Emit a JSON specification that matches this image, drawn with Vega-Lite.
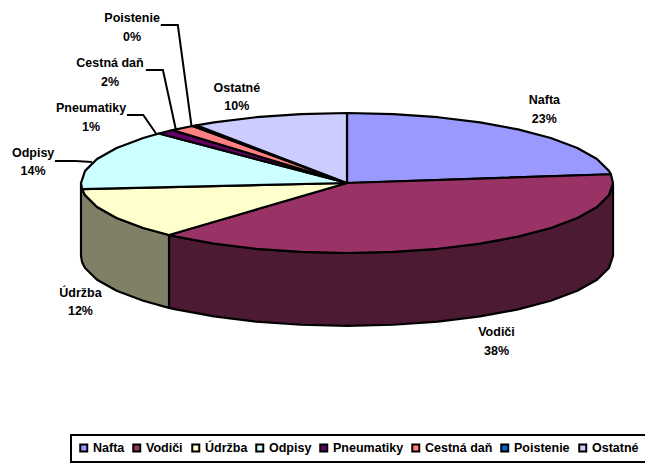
{
"$schema":"https://vega.github.io/schema/vega-lite/v6.json",
"width":645,"height":464,"padding":0,
"autosize":{"type":"fit","contains":"padding"},
"background":"white",
"config":{"view":{"stroke":null},"text":{"font":"Liberation Sans"},"legend":{"strokeWidth":2}},
"datasets":{
"wall":[
{"slice":"Vodiči","i":1,"x":100,"y":0},{"slice":"Vodiči","i":2,"x":98.48,"y":-17.36},{"slice":"Vodiči","i":3,"x":93.97,"y":-34.2},{"slice":"Vodiči","i":4,"x":86.6,"y":-50},{"slice":"Vodiči","i":5,"x":76.6,"y":-64.28},{"slice":"Vodiči","i":6,"x":64.28,"y":-76.6},{"slice":"Vodiči","i":7,"x":50,"y":-86.6},{"slice":"Vodiči","i":8,"x":34.2,"y":-93.97},{"slice":"Vodiči","i":9,"x":17.36,"y":-98.48},{"slice":"Vodiči","i":10,"x":0,"y":-100},{"slice":"Vodiči","i":11,"x":-17.36,"y":-98.48},{"slice":"Vodiči","i":12,"x":-34.2,"y":-93.97},{"slice":"Vodiči","i":13,"x":-50,"y":-86.6},{"slice":"Vodiči","i":14,"x":-64.28,"y":-76.6},{"slice":"Vodiči","i":15,"x":-66.91,"y":-74.31},
{"slice":"Vodiči","i":16,"x":-66.91,"y":-178.31},{"slice":"Vodiči","i":17,"x":-64.28,"y":-180.6},{"slice":"Vodiči","i":18,"x":-50,"y":-190.6},{"slice":"Vodiči","i":19,"x":-34.2,"y":-197.97},{"slice":"Vodiči","i":20,"x":-17.36,"y":-202.48},{"slice":"Vodiči","i":21,"x":0,"y":-204},{"slice":"Vodiči","i":22,"x":17.36,"y":-202.48},{"slice":"Vodiči","i":23,"x":34.2,"y":-197.97},{"slice":"Vodiči","i":24,"x":50,"y":-190.6},{"slice":"Vodiči","i":25,"x":64.28,"y":-180.6},{"slice":"Vodiči","i":26,"x":76.6,"y":-168.28},{"slice":"Vodiči","i":27,"x":86.6,"y":-154},{"slice":"Vodiči","i":28,"x":93.97,"y":-138.2},{"slice":"Vodiči","i":29,"x":98.48,"y":-121.36},{"slice":"Vodiči","i":30,"x":100,"y":-104},{"slice":"Vodiči","i":31,"x":100,"y":0},
{"slice":"Údržba","i":1,"x":-66.91,"y":-74.31},{"slice":"Údržba","i":2,"x":-76.6,"y":-64.28},{"slice":"Údržba","i":3,"x":-86.6,"y":-50},{"slice":"Údržba","i":4,"x":-93.97,"y":-34.2},{"slice":"Údržba","i":5,"x":-98.48,"y":-17.36},{"slice":"Údržba","i":6,"x":-99.62,"y":-8.72},{"slice":"Údržba","i":7,"x":-100,"y":0},
{"slice":"Údržba","i":8,"x":-100,"y":-104},{"slice":"Údržba","i":9,"x":-99.62,"y":-112.72},{"slice":"Údržba","i":10,"x":-98.48,"y":-121.36},{"slice":"Údržba","i":11,"x":-93.97,"y":-138.2},{"slice":"Údržba","i":12,"x":-86.6,"y":-154},{"slice":"Údržba","i":13,"x":-76.6,"y":-168.28},{"slice":"Údržba","i":14,"x":-66.91,"y":-178.31},{"slice":"Údržba","i":15,"x":-66.91,"y":-74.31}
],
"top":[
{"slice":"Nafta","i":0,"x":0,"y":0},{"slice":"Nafta","i":1,"x":0,"y":100},{"slice":"Nafta","i":2,"x":17.36,"y":98.48},{"slice":"Nafta","i":3,"x":34.2,"y":93.97},{"slice":"Nafta","i":4,"x":50,"y":86.6},{"slice":"Nafta","i":5,"x":64.28,"y":76.6},{"slice":"Nafta","i":6,"x":76.6,"y":64.28},{"slice":"Nafta","i":7,"x":86.6,"y":50},{"slice":"Nafta","i":8,"x":93.97,"y":34.2},{"slice":"Nafta","i":9,"x":98.48,"y":17.36},{"slice":"Nafta","i":10,"x":99.21,"y":12.53},{"slice":"Nafta","i":11,"x":0,"y":0},
{"slice":"Vodiči","i":0,"x":0,"y":0},{"slice":"Vodiči","i":1,"x":99.21,"y":12.53},{"slice":"Vodiči","i":2,"x":100,"y":0},{"slice":"Vodiči","i":3,"x":98.48,"y":-17.36},{"slice":"Vodiči","i":4,"x":93.97,"y":-34.2},{"slice":"Vodiči","i":5,"x":86.6,"y":-50},{"slice":"Vodiči","i":6,"x":76.6,"y":-64.28},{"slice":"Vodiči","i":7,"x":64.28,"y":-76.6},{"slice":"Vodiči","i":8,"x":50,"y":-86.6},{"slice":"Vodiči","i":9,"x":34.2,"y":-93.97},{"slice":"Vodiči","i":10,"x":17.36,"y":-98.48},{"slice":"Vodiči","i":11,"x":0,"y":-100},{"slice":"Vodiči","i":12,"x":-17.36,"y":-98.48},{"slice":"Vodiči","i":13,"x":-34.2,"y":-93.97},{"slice":"Vodiči","i":14,"x":-50,"y":-86.6},{"slice":"Vodiči","i":15,"x":-64.28,"y":-76.6},{"slice":"Vodiči","i":16,"x":-66.91,"y":-74.31},{"slice":"Vodiči","i":17,"x":0,"y":0},
{"slice":"Údržba","i":0,"x":0,"y":0},{"slice":"Údržba","i":1,"x":-66.91,"y":-74.31},{"slice":"Údržba","i":2,"x":-76.6,"y":-64.28},{"slice":"Údržba","i":3,"x":-86.6,"y":-50},{"slice":"Údržba","i":4,"x":-93.97,"y":-34.2},{"slice":"Údržba","i":5,"x":-98.48,"y":-17.36},{"slice":"Údržba","i":6,"x":-99.62,"y":-8.72},{"slice":"Údržba","i":7,"x":0,"y":0},
{"slice":"Odpisy","i":0,"x":0,"y":0},{"slice":"Odpisy","i":1,"x":-99.62,"y":-8.72},{"slice":"Odpisy","i":2,"x":-100,"y":0},{"slice":"Odpisy","i":3,"x":-98.48,"y":17.36},{"slice":"Odpisy","i":4,"x":-93.97,"y":34.2},{"slice":"Odpisy","i":5,"x":-86.6,"y":50},{"slice":"Odpisy","i":6,"x":-76.6,"y":64.28},{"slice":"Odpisy","i":7,"x":-70.71,"y":70.71},{"slice":"Odpisy","i":8,"x":0,"y":0},
{"slice":"Pneumatiky","i":0,"x":0,"y":0},{"slice":"Pneumatiky","i":1,"x":-70.71,"y":70.71},{"slice":"Pneumatiky","i":2,"x":-65.6,"y":75.47},{"slice":"Pneumatiky","i":3,"x":0,"y":0},
{"slice":"Cestná daň","i":0,"x":0,"y":0},{"slice":"Cestná daň","i":1,"x":-65.6,"y":75.47},{"slice":"Cestná daň","i":2,"x":-58.07,"y":81.41},{"slice":"Cestná daň","i":3,"x":0,"y":0},
{"slice":"Poistenie","i":0,"x":0,"y":0},{"slice":"Poistenie","i":1,"x":-58.07,"y":81.41},{"slice":"Poistenie","i":2,"x":-56.64,"y":82.41},{"slice":"Poistenie","i":3,"x":0,"y":0},
{"slice":"Ostatné","i":0,"x":0,"y":0},{"slice":"Ostatné","i":1,"x":-56.64,"y":82.41},{"slice":"Ostatné","i":2,"x":-50,"y":86.6},{"slice":"Ostatné","i":3,"x":-34.2,"y":93.97},{"slice":"Ostatné","i":4,"x":-17.36,"y":98.48},{"slice":"Ostatné","i":5,"x":0,"y":100},{"slice":"Ostatné","i":6,"x":0,"y":0}
],
"leaders":[
{"slice":"Poistenie","i":1,"x":-70,"y":225.7},{"slice":"Poistenie","i":2,"x":-63.6,"y":225.7},{"slice":"Poistenie","i":3,"x":-58.4,"y":80},
{"slice":"Cestná daň","i":1,"x":-75.6,"y":161.4},{"slice":"Cestná daň","i":2,"x":-69.2,"y":161.4},{"slice":"Cestná daň","i":3,"x":-64.3,"y":75.7},
{"slice":"Pneumatiky","i":1,"x":-82.7,"y":97.1},{"slice":"Pneumatiky","i":2,"x":-76.6,"y":97.1},{"slice":"Pneumatiky","i":3,"x":-71.4,"y":68.6},
{"slice":"Odpisy","i":1,"x":-109.8,"y":31.4},{"slice":"Odpisy","i":2,"x":-102.2,"y":31.4},{"slice":"Odpisy","i":3,"x":-95.9,"y":30}
],
"labels":[
{"label":"Nafta\n23%","x":74.2,"y":107},
{"label":"Vodiči\n38%","x":56.2,"y":-224.3},
{"label":"Údržba\n12%","x":-100.2,"y":-167.9},
{"label":"Odpisy\n14%","x":-118,"y":32.1},
{"label":"Pneumatiky\n1%","x":-96.2,"y":95.7},
{"label":"Cestná daň\n2%","x":-89.1,"y":160},
{"label":"Poistenie\n0%","x":-80.8,"y":223.6},
{"label":"Ostatné\n10%","x":-41.4,"y":125}
]
},
"encoding":{
"x":{"field":"x","type":"quantitative","axis":null,"scale":{"domain":[-130.45,112.03],"nice":false,"zero":false}},
"y":{"field":"y","type":"quantitative","axis":null,"scale":{"domain":[-401.43,261.43],"nice":false,"zero":false}}
},
"layer":[
{"data":{"name":"wall"},"transform":[{"filter":"datum.slice=='Vodiči'"}],
 "mark":{"type":"line","fill":"#4d1a33","stroke":"black","strokeWidth":2.2,"strokeJoin":"round"},
 "encoding":{"order":{"field":"i","type":"quantitative"}}},
{"data":{"name":"wall"},"transform":[{"filter":"datum.slice=='Údržba'"}],
 "mark":{"type":"line","fill":"#808066","stroke":"black","strokeWidth":2.2,"strokeJoin":"round"},
 "encoding":{"order":{"field":"i","type":"quantitative"}}},
{"data":{"name":"top"},
 "mark":{"type":"line","stroke":"black","strokeWidth":2.2,"strokeJoin":"round"},
 "encoding":{"order":{"field":"i","type":"quantitative"},
  "detail":{"field":"slice","type":"nominal"},
  "fill":{"field":"slice","type":"nominal",
   "scale":{"domain":["Nafta","Vodiči","Údržba","Odpisy","Pneumatiky","Cestná daň","Poistenie","Ostatné"],"range":["#9999ff","#993366","#ffffcc","#ccffff","#660066","#ff8080","#0066cc","#ccccff"]},
   "legend":{"title":null,"orient":"none","legendX":71,"legendY":435,"columns":8,"direction":"horizontal","symbolType":"square","symbolSize":49,"symbolStrokeColor":"black","symbolStrokeWidth":2,"symbolOpacity":1,"labelFont":"Liberation Sans","labelFontWeight":"bold","labelFontSize":12.5,"labelColor":"black","labelOffset":3,"columnPadding":4,"padding":6.5,"strokeColor":"black","fillColor":"white","labelLimit":200}}}},
{"data":{"name":"leaders"},
 "mark":{"type":"line","stroke":"black","strokeWidth":2},
 "encoding":{"order":{"field":"i","type":"quantitative"},"detail":{"field":"slice","type":"nominal"}}},
{"data":{"name":"labels"},
 "mark":{"type":"text","font":"Liberation Sans","fontWeight":"bold","fontSize":12.5,"color":"black","lineBreak":"\n","lineHeight":18.5,"align":"center","baseline":"middle","dy":-8},
 "encoding":{"text":{"field":"label","type":"nominal"}}}
]
}
